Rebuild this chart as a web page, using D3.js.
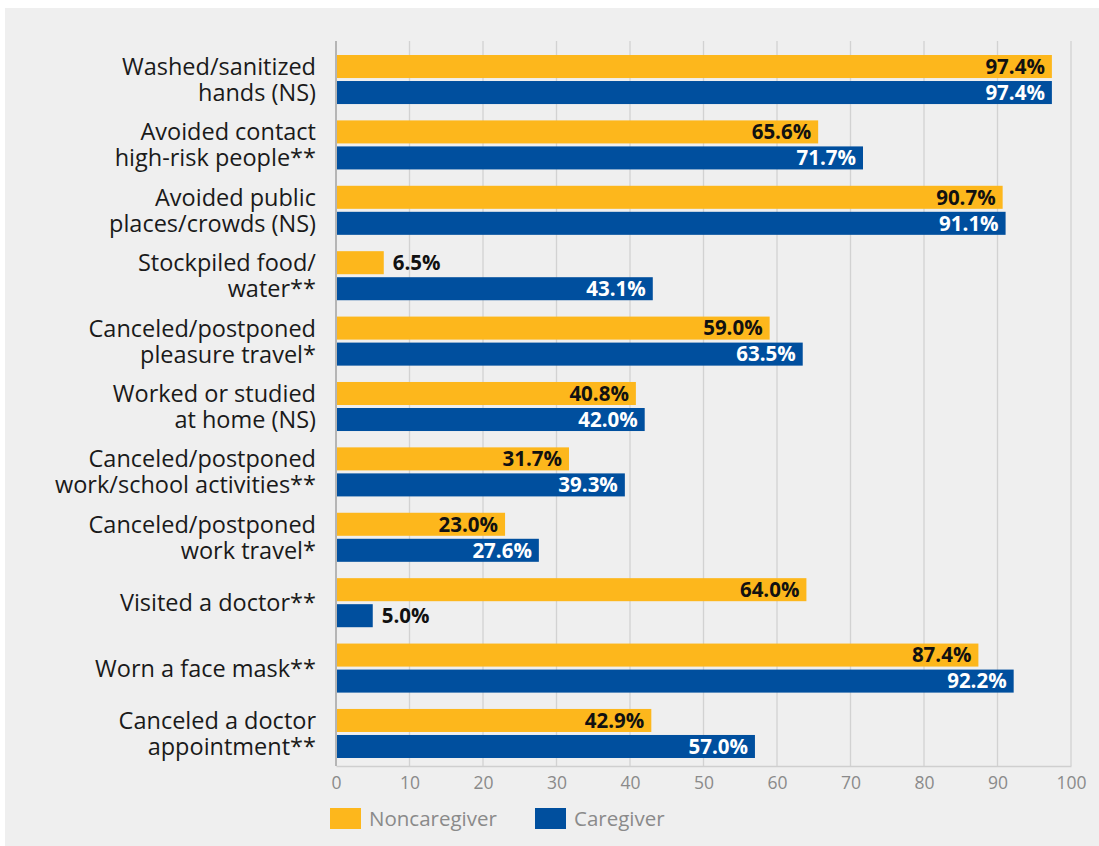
<!DOCTYPE html>
<html><head><meta charset="utf-8">
<script src="https://cdn.jsdelivr.net/npm/d3@7"></script>
<style>body{margin:0;background:#fff;} svg{display:block;font-family:"Open Sans",sans-serif;}</style>
</head><body>
<svg id="c" width="1099" height="846"></svg>
<script>
const categories = [
  ["Washed/sanitized","hands (NS)"],
  ["Avoided contact","high-risk people**"],
  ["Avoided public","places/crowds (NS)"],
  ["Stockpiled food/","water**"],
  ["Canceled/postponed","pleasure travel*"],
  ["Worked or studied","at home (NS)"],
  ["Canceled/postponed","work/school activities**"],
  ["Canceled/postponed","work travel*"],
  ["Visited a doctor**"],
  ["Worn a face mask**"],
  ["Canceled a doctor","appointment**"]
];
const noncaregiver = [97.4, 65.6, 90.7, 6.5, 59.0, 40.8, 31.7, 23.0, 64.0, 87.4, 42.9];
const caregiver    = [97.4, 71.7, 91.1, 43.1, 63.5, 42.0, 39.3, 27.6, 5.0, 92.2, 57.0];
const seriesNames = ["Noncaregiver", "Caregiver"];
const colors = ["#fdb71c", "#004f9e"];
const labelColors = ["#111", "#fff"];
const xTicks = [0,10,20,30,40,50,60,70,80,90,100];

const svg = d3.select("#c");
svg.append("rect").attr("x",5).attr("y",8).attr("width",1094).attr("height",838).attr("fill","#efefef");

const x = d3.scaleLinear().domain([0,100]).range([336,1071]);
const y = d3.scaleBand().domain(d3.range(categories.length)).range([55,758]).paddingInner(0.25).paddingOuter(0);
const sub = d3.scaleBand().domain([0,1]).range([0,y.bandwidth()]).paddingInner(0.115);

// gridlines
svg.append("g").selectAll("line").data(xTicks.slice(1)).join("line")
  .attr("x1",d=>x(d)).attr("x2",d=>x(d)).attr("y1",41).attr("y2",766)
  .attr("stroke","#d2d2d2").attr("stroke-width",1.3);

// bottom axis
const xAxis = svg.append("g").attr("transform","translate(0,766)")
  .call(d3.axisBottom(x).tickValues(xTicks).tickSize(0).tickPadding(11));
xAxis.select(".domain").attr("stroke","#cfcfcf").attr("stroke-width",1.5);
xAxis.selectAll("text").attr("fill","#8a8a8a").attr("font-size",17.5).attr("font-family","Open Sans");

const series = [noncaregiver, caregiver];
series.forEach((vals, s) => {
  const g = svg.append("g");
  g.selectAll("rect").data(vals).join("rect")
    .attr("x", x(0)).attr("y", (d,i)=>y(i)+sub(s))
    .attr("width", d=>x(d)-x(0)).attr("height", sub.bandwidth())
    .attr("fill", colors[s]);
  g.selectAll("text").data(vals).join("text")
    .attr("x", d => d < 10 ? x(d)+9 : x(d)-7)
    .attr("y", (d,i)=>y(i)+sub(s)+sub.bandwidth()/2)
    .attr("dy","0.36em")
    .attr("text-anchor", d => d < 10 ? "start" : "end")
    .attr("fill", d => d < 10 ? "#111" : labelColors[s])
    .attr("font-weight","bold").attr("font-size",20.5)
    .text(d => d.toFixed(1) + "%");
});

// y axis line
svg.append("line").attr("x1",x(0)).attr("x2",x(0)).attr("y1",41).attr("y2",766)
  .attr("stroke","#b5b5b5").attr("stroke-width",2);

// category labels
const cl = svg.append("g").selectAll("text").data(categories).join("text")
  .attr("x",316).attr("text-anchor","end").attr("fill","#1a1a1a").attr("font-size",23.5)
  .attr("y",(d,i)=>y(i)+y.bandwidth()/2 - (d.length-1)*13 );
cl.each(function(d){
  d3.select(this).selectAll("tspan").data(d).join("tspan")
    .attr("x",316).attr("dy",(t,j)=> j===0 ? "0.36em" : 26).text(t=>t);
});

// legend
const legend = svg.append("g");
const lx = [330, 535];
seriesNames.forEach((n,i)=>{
  legend.append("rect").attr("x",lx[i]).attr("y",808).attr("width",31).attr("height",21).attr("fill",colors[i]);
  legend.append("text").attr("x",lx[i]+39).attr("y",818.5).attr("dy","0.36em")
    .attr("fill","#8a8a8a").attr("font-size",20.5).text(n);
});
</script>
</body></html>
